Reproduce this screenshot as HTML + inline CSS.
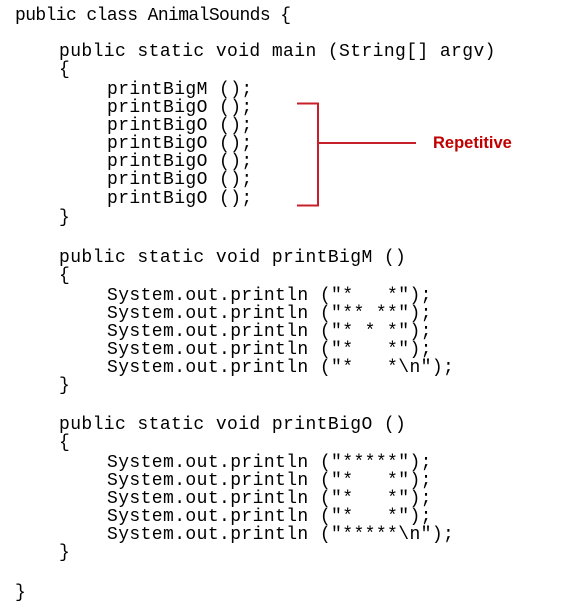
<!DOCTYPE html>
<html><head><style>
body{margin:0;background:#fff;width:561px;height:611px;position:relative;overflow:hidden}
.l{position:absolute;font-family:"Liberation Mono",monospace;font-size:18px;letter-spacing:0.4px;white-space:pre;color:#000;line-height:22px}
</style></head><body>
<div class="l" style="left:15px;top:5px;letter-spacing:-0.6px">public class AnimalSounds {</div>
<div class="l" style="left:59px;top:41px">public static void main (String[] argv)</div>
<div class="l" style="left:59px;top:59px">{</div>
<div class="l" style="left:107px;top:79px">printBigM ();</div>
<div class="l" style="left:107px;top:97px">printBigO ();</div>
<div class="l" style="left:107px;top:115px">printBigO ();</div>
<div class="l" style="left:107px;top:133px">printBigO ();</div>
<div class="l" style="left:107px;top:151px">printBigO ();</div>
<div class="l" style="left:107px;top:169px">printBigO ();</div>
<div class="l" style="left:107px;top:188px">printBigO ();</div>
<div class="l" style="left:59px;top:207px">}</div>

<div class="l" style="left:59px;top:247px">public static void printBigM ()</div>
<div class="l" style="left:59px;top:265px">{</div>
<div class="l" style="left:107px;top:285px">System.out.println ("*   *");</div>
<div class="l" style="left:107px;top:303px">System.out.println ("** **");</div>
<div class="l" style="left:107px;top:321px">System.out.println ("* * *");</div>
<div class="l" style="left:107px;top:339px">System.out.println ("*   *");</div>
<div class="l" style="left:107px;top:357px">System.out.println ("*   *\n");</div>
<div class="l" style="left:59px;top:375px">}</div>

<div class="l" style="left:59px;top:414px">public static void printBigO ()</div>
<div class="l" style="left:59px;top:432px">{</div>
<div class="l" style="left:107px;top:452px">System.out.println ("*****");</div>
<div class="l" style="left:107px;top:470px">System.out.println ("*   *");</div>
<div class="l" style="left:107px;top:488px">System.out.println ("*   *");</div>
<div class="l" style="left:107px;top:506px">System.out.println ("*   *");</div>
<div class="l" style="left:107px;top:524px">System.out.println ("*****\n");</div>
<div class="l" style="left:59px;top:542px">}</div>

<div class="l" style="left:15px;top:582px">}</div>

<svg style="position:absolute;left:0;top:0" width="561" height="611">
<path d="M297 103.5 H318 V205.5 H297 M318 143 H416" fill="none" stroke="#c8202a" stroke-width="2"/>
<text x="433" y="148" font-family="Liberation Sans, sans-serif" font-size="16.5" font-weight="bold" fill="#c00000">Repetitive</text>
</svg>
</body></html>
